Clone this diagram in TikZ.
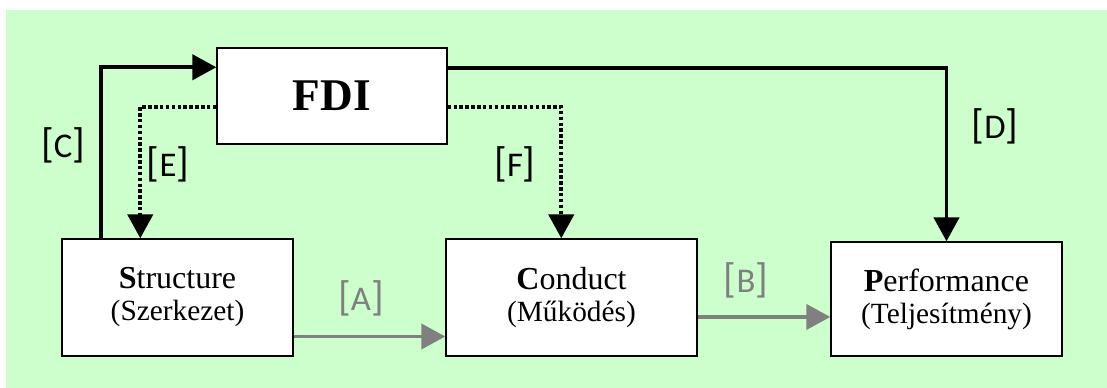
\documentclass[tikz,border=0pt]{standalone}
\usepackage{fontspec}
\setmainfont{Liberation Serif}
\newfontfamily\labelfont{Carlito}
\usetikzlibrary{arrows.meta}

\definecolor{bggreen}{HTML}{CCFFCC}
\definecolor{linkgrey}{HTML}{808080}

\tikzset{
  scmbox/.style={draw=black, line width=1.1pt, fill=white, inner sep=0pt,
    align=center, font=\fontsize{22}{24}\selectfont},
  mainlink/.style={line width=2.7pt, -{Triangle[length=18pt, width=19pt]}},
  dottedlink/.style={mainlink, dash pattern=on 2.6pt off 1.8pt},
  greylink/.style={draw=linkgrey, line width=2.4pt,
    -{Triangle[length=18pt, width=19pt, fill=linkgrey]}},
  linklabel/.style={font=\labelfont\fontsize{26}{26}\selectfont},
}
\newcommand{\firstline}[2]{{\fontsize{24}{24}\selectfont\textbf{#1}#2}}
\newcommand{\lbl}[1]{{\fontsize{31}{31}\selectfont[}#1{\fontsize{31}{31}\selectfont]}}

\begin{document}
\begin{tikzpicture}[x=0.75pt, y=-0.75pt]
  % 1. Canvas and green background
  \useasboundingbox (0,0) rectangle (1107,388);
  \fill[bggreen] (6,10) rectangle (1107,388);

  % 2. The four boxes
  \node[scmbox, minimum width=172.5pt, minimum height=72pt,
    font=\fontsize{34}{34}\selectfont\bfseries] (fdi) at (332,96) {FDI};
  \node[scmbox, minimum width=173.25pt, minimum height=87.75pt]
    (struct) at (177.5,297.5) {\firstline{S}{tructure}\\(Szerkezet)};
  \node[scmbox, minimum width=188.25pt, minimum height=87.75pt]
    (cond) at (571.5,297.5) {\firstline{C}{onduct}\\(Működés)};
  \node[scmbox, minimum width=173.25pt, minimum height=85.5pt]
    (perf) at (946.5,299) {\firstline{P}{erformance}\\(Teljesítmény)};

  % 3. Links from and to FDI
  \draw[mainlink] ([xshift=30pt]struct.north west)
    |- ([yshift=-15pt]fdi.north west);
  \draw[mainlink] ([yshift=21pt]fdi.east) -| (perf.north);
  \draw[dottedlink] ([yshift=-8.25pt]fdi.west)
    -| ([xshift=59.25pt]struct.north west);
  \draw[dottedlink] ([yshift=-8.25pt]fdi.east)
    -| ([xshift=87pt]cond.north west);

  % 4. Grey links along the chain
  \draw[greylink] ([yshift=-29.25pt]struct.east) coordinate (aStart)
    -- (aStart -| cond.west);
  \draw[greylink] ([yshift=-14.6pt]cond.east) coordinate (bStart)
    -- (bStart -| perf.west);

  % 5. Link labels
  \node[linklabel] (lblC) at (63,145) {\lbl{C}};
  \node[linklabel] (lblD) at (995,126) {\lbl{D}};
  \node[linklabel] (lblE) at (168,164) {\lbl{E}};
  \node[linklabel] (lblF) at (515,164) {\lbl{F}};
  \node[linklabel, text=linkgrey] (lblA) at (361,298) {\lbl{A}};
  \node[linklabel, text=linkgrey] (lblB) at (746,280) {\lbl{B}};
\end{tikzpicture}
\end{document}
